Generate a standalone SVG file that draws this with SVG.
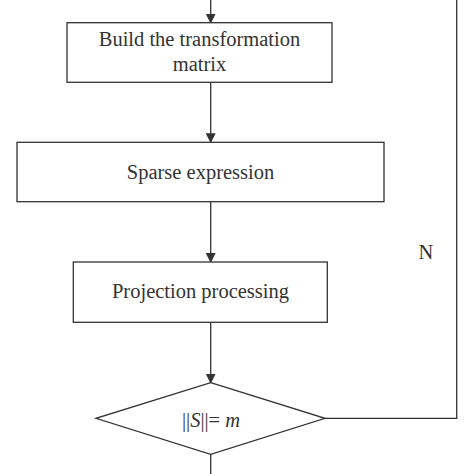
<svg xmlns="http://www.w3.org/2000/svg" width="474" height="474" viewBox="0 0 474 474">
<style>
.box{fill:#fff;stroke:#333;stroke-width:1.3}
.ln{fill:none;stroke:#333;stroke-width:1.3}
text{font-family:"Liberation Serif","Times New Roman",serif;font-size:20.5px;fill:#333333;text-anchor:middle}
</style>
<defs>
<marker id="ah" markerWidth="10" markerHeight="12" refX="9" refY="5" orient="auto" markerUnits="userSpaceOnUse" viewBox="0 0 10 10">
<path d="M0,0 L10,5 L0,10 Z" fill="#333"/>
</marker>
</defs>
<rect width="474" height="474" fill="#fff"/>
<g id="connectors">
<line class="ln" x1="210.7" y1="0" x2="210.7" y2="22.7" marker-end="url(#ah)"/>
<line class="ln" x1="210.7" y1="82.3" x2="210.7" y2="142.3" marker-end="url(#ah)"/>
<line class="ln" x1="210.7" y1="201.7" x2="210.7" y2="262" marker-end="url(#ah)"/>
<line class="ln" x1="210.7" y1="322.3" x2="210.7" y2="382.7" marker-end="url(#ah)"/>
<line class="ln" x1="210.7" y1="454.3" x2="210.7" y2="474"/>
<polyline class="ln" points="325,418.3 456.7,418.3 456.7,0"/>
<text x="426" y="259">N</text>
</g>
<g id="build">
<rect class="box" x="67" y="22.7" width="265" height="59.6"/>
<text x="199.5" y="46">Build the transformation</text>
<text x="199.5" y="71">matrix</text>
</g>
<g id="sparse">
<rect class="box" x="17" y="142.3" width="367" height="59.4"/>
<text x="200.5" y="178.5">Sparse expression</text>
</g>
<g id="projection">
<rect class="box" x="73.3" y="262" width="254" height="60.3"/>
<text x="200.5" y="298">Projection processing</text>
</g>
<g id="decision">
<polygon class="box" points="210.7,382.7 325,418.3 210.7,454.3 96,418.3"/>
<text x="211" y="427">||<tspan font-style="italic">S</tspan>||= <tspan font-style="italic">m</tspan></text>
</g>
</svg>
